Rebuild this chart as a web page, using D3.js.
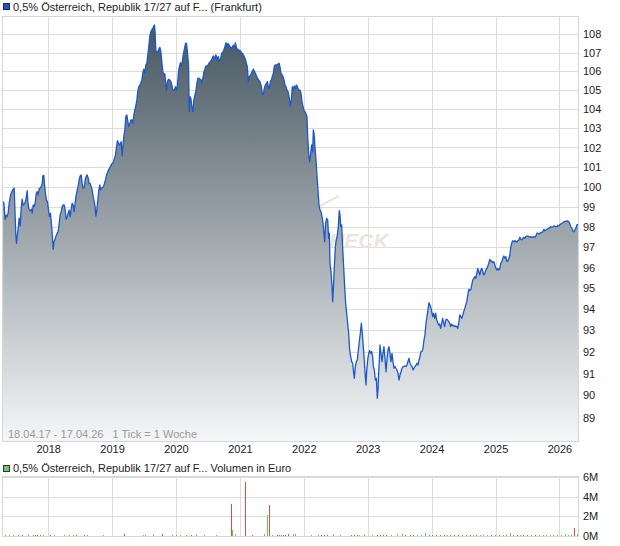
<!DOCTYPE html>
<html>
<head>
<meta charset="utf-8">
<script src="https://cdn.jsdelivr.net/npm/d3@7"></script>
<style>
  body { margin: 0; background: #fff; }
  svg { display: block; font-family: "Liberation Sans", Arial, sans-serif; }
</style>
</head>
<body>
<svg id="chart" width="620" height="546"></svg>
<script>
// Kurs (Frankfurt), Zeit in Dezimaljahren
const priceT = [
  2017.294,2017.306,2017.317,2017.327,2017.343,2017.359,2017.374,2017.390,2017.411,2017.432,
  2017.452,2017.468,2017.479,2017.494,2017.505,2017.515,2017.531,2017.546,2017.562,2017.578,
  2017.593,2017.609,2017.630,2017.651,2017.672,2017.682,2017.698,2017.719,2017.740,2017.750,
  2017.766,2017.781,2017.797,2017.813,2017.828,2017.844,2017.860,2017.875,2017.891,2017.907,
  2017.917,2017.933,2017.943,2017.959,2017.974,2017.990,2018.006,2018.021,2018.037,2018.047,
  2018.058,2018.068,2018.079,2018.089,2018.105,2018.120,2018.141,2018.157,2018.173,2018.188,
  2018.204,2018.220,2018.235,2018.251,2018.267,2018.282,2018.298,2018.314,2018.329,2018.345,
  2018.361,2018.376,2018.392,2018.407,2018.423,2018.439,2018.454,2018.470,2018.486,2018.501,
  2018.517,2018.533,2018.548,2018.564,2018.580,2018.595,2018.611,2018.627,2018.642,2018.658,
  2018.674,2018.689,2018.705,2018.721,2018.736,2018.747,2018.762,2018.778,2018.794,2018.809,
  2018.820,2018.836,2018.851,2018.867,2018.882,2018.898,2018.914,2018.929,2018.945,2018.961,
  2018.976,2018.992,2019.008,2019.023,2019.039,2019.055,2019.070,2019.086,2019.096,2019.112,
  2019.128,2019.143,2019.159,2019.169,2019.185,2019.201,2019.216,2019.232,2019.248,2019.263,
  2019.279,2019.295,2019.310,2019.326,2019.342,2019.357,2019.373,2019.389,2019.404,2019.420,
  2019.435,2019.451,2019.467,2019.482,2019.498,2019.514,2019.529,2019.545,2019.561,2019.576,
  2019.592,2019.608,2019.623,2019.639,2019.655,2019.665,2019.676,2019.686,2019.702,2019.717,
  2019.733,2019.749,2019.764,2019.780,2019.796,2019.811,2019.827,2019.843,2019.853,2019.869,
  2019.884,2019.900,2019.916,2019.931,2019.947,2019.963,2019.978,2019.994,2020.010,2020.025,
  2020.041,2020.057,2020.072,2020.088,2020.104,2020.119,2020.135,2020.151,2020.166,2020.182,
  2020.198,2020.208,2020.218,2020.234,2020.250,2020.265,2020.281,2020.297,2020.312,2020.328,
  2020.344,2020.359,2020.375,2020.391,2020.406,2020.422,2020.438,2020.453,2020.469,2020.485,
  2020.500,2020.516,
  2020.557,2020.583,2020.610,2020.625,2020.646,2020.662,2020.678,2020.699,2020.714,2020.740,
  2020.766,2020.782,2020.798,2020.813,2020.829,2020.845,2020.871,2020.897,2020.912,2020.928,
  2020.949,2020.975,2021.001,2021.027,2021.053,2021.079,2021.095,2021.116,2021.132,2021.147,
  2021.168,2021.189,2021.210,2021.231,2021.252,2021.273,2021.293,2021.314,2021.335,2021.351,
  2021.367,2021.382,2021.398,2021.414,2021.429,2021.445,2021.460,2021.476,2021.492,2021.507,
  2021.523,2021.539,2021.554,2021.575,2021.596,2021.612,2021.627,2021.643,2021.659,2021.674,
  2021.690,2021.706,2021.721,2021.737,2021.753,2021.774,2021.789,2021.805,2021.821,2021.836,
  2021.852,2021.867,2021.883,2021.899,2021.920,2021.941,2021.956,2021.972,2021.988,2022.003,
  2022.019,2022.035,2022.050,2022.061,2022.076,2022.092,2022.108,2022.123,2022.139,2022.149,
  2022.160,2022.175,2022.191,2022.207,2022.222,2022.238,2022.254,2022.269,2022.285,2022.301,
  2022.316,2022.327,2022.342,2022.358,2022.374,2022.389,
  2022.400,2022.410,2022.426,2022.442,2022.452,2022.462,2022.478,2022.494,2022.509,2022.525,
  2022.540,2022.556,2022.567,2022.577,2022.593,2022.608,2022.624,2022.640,2022.655,2022.671,
  2022.687,2022.702,2022.718,2022.734,2022.749,2022.765,2022.781,2022.791,2022.807,2022.822,
  2022.838,2022.854,2022.869,2022.885,2022.901,2022.916,2022.932,2022.948,2022.963,2022.974,
  2022.984,2023.000,2023.016,2023.031,2023.047,2023.062,2023.078,2023.089,2023.104,2023.120,
  2023.136,2023.151,2023.162,2023.172,2023.182,2023.193,2023.208,2023.224,2023.240,2023.255,
  2023.271,2023.287,2023.302,2023.318,2023.334,2023.349,2023.365,2023.381,2023.396,2023.412,
  2023.428,2023.443,2023.459,2023.475,2023.490,2023.506,2023.522,2023.537,2023.553,2023.569,
  2023.584,2023.600,2023.616,2023.631,2023.647,2023.663,2023.678,2023.694,2023.710,2023.725,
  2023.741,2023.757,2023.772,2023.788,2023.804,2023.819,2023.835,2023.850,2023.866,2023.882,
  2023.897,2023.913,2023.929,2023.944,2023.960,
  2023.986,2024.002,2024.018,2024.033,2024.049,2024.065,2024.080,2024.096,2024.112,2024.127,
  2024.143,2024.159,2024.174,2024.190,2024.205,2024.221,2024.237,2024.252,2024.268,2024.284,
  2024.299,2024.315,2024.331,2024.346,2024.362,2024.378,2024.393,2024.409,2024.425,2024.440,
  2024.456,2024.472,2024.487,2024.503,2024.519,2024.534,2024.550,2024.566,2024.581,2024.597,
  2024.613,2024.628,2024.644,2024.660,2024.675,2024.691,2024.707,2024.722,2024.738,2024.754,
  2024.769,2024.785,2024.801,2024.816,2024.832,2024.848,2024.863,2024.879,2024.894,2024.910,
  2024.926,2024.941,2024.957,2024.973,2024.988,2025.004,2025.020,2025.035,2025.051,2025.067,
  2025.082,2025.098,2025.114,2025.129,2025.145,2025.161,2025.176,2025.192,2025.208,2025.223,
  2025.239,2025.255,2025.270,2025.286,2025.302,2025.317,2025.333,2025.349,2025.364,2025.380,
  2025.396,2025.411,2025.427,2025.443,2025.458,2025.474,2025.490,2025.505,2025.521,2025.537,
  2025.552,2025.568,2025.584,2025.599,2025.615,2025.631,2025.646,2025.662,2025.678,2025.693,
  2025.709,2025.724,2025.740,2025.756,2025.771,2025.787,2025.803,2025.818,2025.834,2025.850,
  2025.865,2025.881,2025.897,2025.912,2025.928,2025.944,2025.959,2025.975,2025.991,2026.006,
  2026.022,2026.038,2026.053,2026.069,2026.085,2026.100,2026.116,2026.132,2026.147,2026.163,
  2026.179,2026.194,2026.210,2026.225,2026.241,2026.257,2026.272,2026.290
];
const priceV = [
  99.25,99.20,98.75,98.37,98.58,98.50,98.70,99.17,99.58,99.75,
  99.87,99.92,98.92,97.59,97.18,97.51,97.92,98.42,98.04,98.92,
  99.37,99.08,99.13,99.33,99.80,99.25,98.87,98.80,98.87,98.67,
  99.08,99.00,99.17,99.67,99.75,99.58,99.92,99.92,100.00,100.17,
  100.55,100.57,100.09,99.63,99.33,99.25,98.83,98.50,98.67,98.25,
  97.92,97.43,96.89,97.26,97.35,97.51,97.68,97.76,98.17,98.58,
  98.75,99.00,99.08,99.08,98.83,98.37,98.50,98.67,98.83,98.50,
  98.87,99.17,99.08,98.75,99.20,99.58,99.80,100.04,100.34,100.55,
  100.60,100.14,99.92,99.97,100.34,100.52,100.60,100.43,100.17,100.17,
  100.00,99.84,99.50,99.25,98.97,98.53,98.83,99.33,99.84,100.09,
  99.84,99.92,99.97,100.00,100.17,100.34,100.60,100.71,100.85,100.93,
  101.02,101.14,101.19,101.27,101.44,101.62,102.04,102.35,102.27,102.13,
  102.18,102.30,101.56,102.04,102.56,102.91,103.60,103.69,103.34,103.08,
  103.25,103.43,103.43,103.25,103.69,103.95,104.16,104.48,104.95,105.18,
  105.27,105.36,105.54,105.89,106.11,105.89,106.34,106.43,106.89,107.33,
  107.91,108.14,108.24,108.33,108.46,108.51,108.05,107.15,106.98,107.06,
  107.18,107.29,107.06,106.52,105.98,105.86,105.86,105.27,105.00,105.45,
  105.57,105.54,105.48,105.36,105.09,104.97,105.00,105.18,104.97,105.27,
  105.98,106.29,106.47,106.25,106.61,106.97,107.24,107.51,107.51,106.97,
  106.34,103.86,104.65,104.56,104.12,103.86,104.48,104.74,104.92,105.36,
  105.63,105.63,105.57,105.57,105.36,105.63,105.98,106.11,106.29,106.25,
  106.34,106.43,
  106.61,106.83,106.70,106.89,106.61,106.80,106.52,106.70,106.97,107.06,
  107.33,107.55,107.33,107.51,107.42,107.33,107.24,107.42,107.15,107.55,
  107.24,107.15,107.11,107.00,106.89,106.70,106.52,106.25,105.45,105.72,
  105.81,105.98,106.11,105.98,105.81,105.63,105.54,105.45,105.18,104.79,
  104.79,105.09,105.27,105.36,105.45,105.18,105.09,105.45,105.54,105.72,
  105.89,106.29,106.34,106.34,106.39,106.43,106.25,105.89,105.81,105.72,
  105.54,105.27,105.18,105.00,104.92,104.56,104.16,104.48,105.18,105.00,
  105.22,105.09,105.27,105.18,105.00,105.00,104.83,104.39,104.12,103.95,
  103.86,103.74,103.60,102.56,101.69,101.27,101.69,102.13,101.78,102.91,
  102.73,102.04,101.36,100.52,99.84,99.08,98.83,98.75,98.50,98.20,
  97.68,97.26,98.17,98.42,98.33,97.43,
  97.68,96.21,95.80,95.08,94.36,94.92,96.04,97.02,97.35,97.59,
  98.00,98.80,98.58,98.00,98.09,97.02,96.04,95.08,94.28,93.81,
  93.34,92.87,92.09,91.78,91.55,91.47,91.01,90.78,91.32,91.55,
  91.62,92.09,92.48,92.87,93.34,92.87,92.24,91.55,90.86,90.47,
  91.08,91.62,91.93,92.06,91.93,92.01,91.78,91.32,91.16,90.70,
  90.78,89.87,90.25,91.01,91.55,92.32,91.93,91.55,91.93,92.24,
  91.70,91.08,91.62,92.09,92.24,91.93,91.55,91.93,91.55,91.24,
  91.32,91.24,91.16,91.01,90.70,90.93,91.08,91.24,91.32,91.32,
  91.35,91.32,91.39,91.55,91.70,91.47,91.39,91.32,91.16,91.24,
  91.32,91.39,91.47,91.39,91.62,91.78,92.01,92.01,92.16,92.55,
  92.79,93.34,93.65,93.97,94.31,
  94.12,93.89,93.65,93.81,93.57,93.81,93.49,93.37,93.25,93.30,
  93.10,93.34,93.57,93.34,93.18,93.49,93.53,93.49,93.41,93.34,
  93.18,93.30,93.21,93.25,93.18,93.21,93.18,93.10,93.34,93.73,
  93.65,93.57,93.73,93.89,94.04,94.20,94.36,94.68,94.95,94.89,
  94.95,95.16,95.40,95.48,95.56,95.48,95.72,95.96,95.80,95.64,
  95.88,95.96,95.80,95.64,95.72,95.88,95.96,96.08,96.21,96.40,
  96.29,96.32,96.24,96.29,96.13,95.96,95.88,95.96,95.88,95.96,
  96.21,96.29,96.45,96.56,96.45,96.53,96.29,96.32,96.45,96.61,
  97.02,97.22,97.31,97.26,97.31,97.26,97.26,97.31,97.35,97.48,
  97.38,97.35,97.43,97.48,97.43,97.51,97.54,97.54,97.51,97.48,
  97.51,97.48,97.48,97.51,97.48,97.54,97.68,97.68,97.64,97.68,
  97.72,97.71,97.75,97.87,97.80,97.84,97.87,97.89,97.92,97.97,
  98.00,97.97,98.00,98.04,98.04,98.00,98.00,98.07,98.04,98.10,
  98.14,98.17,98.20,98.24,98.25,98.29,98.27,98.29,98.25,98.14,
  98.00,97.92,97.79,97.75,97.84,97.92,98.09,98.12
];

// Volumen in Mio. Euro, 1 = Kurs gestiegen (gruen), 0 = gefallen (rot)
const volT = [
  2017.322,2017.385,2017.447,2017.526,2017.588,2017.682,2017.760,2017.792,2017.823,2017.870,
  2017.917,2018.027,2018.089,2018.246,2018.324,2018.387,2018.434,2018.559,2018.606,2018.856,
  2019.185,2019.483,2019.514,2019.639,2019.780,2019.937,2019.999,2020.062,2020.156,2020.234,
  2020.312,2020.438,2020.626,2020.856,2020.871,2020.928,2021.084,2021.184,2021.382,2021.429,
  2021.460,2021.507,2021.581,2021.612,2021.643,2021.675,2021.706,2021.757,2021.826,2021.867,
  2022.113,2022.222,2022.269,2022.316,2022.363,2022.452,2022.567,2022.739,2022.786,2022.833,
  2022.857,2022.943,2023.068,2023.146,2023.193,2023.240,2023.287,2023.365,2023.459,2023.538,
  2023.584,2023.663,2023.710,2023.772,2023.835,2023.898,2023.960,2024.007,2024.070,2024.133,
  2024.195,2024.242,2024.289,2024.352,2024.414,2024.477,2024.540,2024.602,2024.649,2024.696,
  2024.759,2024.806,2024.868,2024.931,2024.993,2025.056,2025.119,2025.166,2025.221,2025.275,
  2025.338,2025.385,2025.432,2025.495,2025.557,2025.620,2025.682,2025.745,2025.792,2025.855,
  2025.902,2025.964,2026.027,2026.089,2026.137,2026.183,2026.230,2026.272
];
const volV = [
  0.05,0.04,0.05,0.04,0.05,0.06,0.05,0.08,0.06,0.07,
  0.05,0.05,0.06,0.10,0.08,0.15,0.05,0.05,0.05,0.05,
  0.18,0.12,0.06,0.05,0.20,0.06,0.08,0.05,0.05,0.05,
  0.04,0.05,0.05,3.30,0.62,0.25,5.45,0.03,0.25,2.15,
  3.20,0.08,0.08,0.06,0.08,0.07,0.10,0.20,0.25,0.25,
  0.04,0.05,0.08,0.07,0.06,0.10,0.05,0.08,0.08,0.08,
  0.15,0.05,0.15,0.08,0.08,0.08,0.08,0.12,0.18,0.20,
  0.08,0.06,0.05,0.07,0.06,0.30,0.08,0.06,0.08,0.07,
  0.08,0.06,0.12,0.06,0.08,0.08,0.06,0.08,0.10,0.08,
  0.06,0.10,0.15,0.08,0.06,0.08,0.10,0.08,0.30,0.08,
  0.10,0.06,0.15,0.06,0.08,0.06,0.05,0.10,0.12,0.15,
  0.10,0.12,0.10,0.18,0.15,0.10,0.86,0.20
];
const volUp = [
  1,1,1,1,0,0,0,0,0,0,
  1,0,1,1,1,1,0,0,1,1,
  0,1,1,0,0,1,1,1,1,0,
  0,1,1,0,1,1,0,0,1,1,
  0,1,0,0,0,0,0,0,1,1,
  1,1,0,0,0,0,1,0,0,0,
  1,0,1,0,0,0,0,1,1,1,
  0,0,0,1,1,1,0,0,0,0,
  0,1,1,0,0,0,1,0,1,0,
  1,1,1,0,1,0,1,0,1,0,
  0,1,0,0,1,0,1,1,1,1,
  1,1,1,1,1,0,0,1
];

const priceTicks = d3.range(89, 109);
const volTicks = [0, 2, 4, 6];
const yearTicks = d3.range(2018, 2027);
const legendPrice = "0,5% Österreich, Republik 17/27 auf F... (Frankfurt)";
const legendVol = "0,5% Österreich, Republik 17/27 auf F... Volumen in Euro";
const rangeNote = "18.04.17 - 17.04.26   1 Tick = 1 Woche";

// --- helpers ---
function yearToDate(t) {
  const y = Math.floor(t);
  const s = new Date(y, 0, 1), e = new Date(y + 1, 0, 1);
  return new Date(+s + (t - y) * (e - s));
}
const crisp = v => Math.round(v) + 0.5;

const price = priceT.map((t, i) => ({ date: yearToDate(t), v: priceV[i] }));
const volume = volT.map((t, i) => ({ date: yearToDate(t), v: volV[i], up: volUp[i] === 1 }));

// --- layout ---
const P = { left: 3, right: 578, top: 17, bottom: 441 };
const V = { top: 477, bottom: 536 };

const svg = d3.select("#chart");

const x = d3.scaleTime()
  .domain([new Date(2017, 3, 18), new Date(2026, 3, 17)])
  .range([P.left, P.right]);
const y = d3.scaleLog().domain([89, 108]).range([417.5, 34.3]);
const yv = d3.scaleLinear().domain([0, 6]).range([V.bottom, V.top]);
const yearDates = yearTicks.map(yr => new Date(yr, 0, 1));

const defs = svg.append("defs");
const grad = defs.append("linearGradient")
  .attr("id", "areaGrad")
  .attr("gradientUnits", "userSpaceOnUse")
  .attr("x1", 0).attr("x2", 0)
  .attr("y1", P.top).attr("y2", P.bottom);
grad.append("stop").attr("offset", "0%").attr("stop-color", "#43535e");
grad.append("stop").attr("offset", "100%").attr("stop-color", "#f5f6f7");

// ==== Legende oben ====
svg.append("rect")
  .attr("x", 3.5).attr("y", 3.5).attr("width", 6).attr("height", 6)
  .attr("fill", "#1f55c0").attr("stroke", "#1b2c5c");
svg.append("text")
  .attr("x", 13).attr("y", 11)
  .attr("font-size", 11).attr("fill", "#222")
  .text(legendPrice);

// ==== Hauptchart ====
const gMain = svg.append("g");

gMain.append("g").selectAll("line")
  .data(priceTicks).join("line")
  .attr("x1", P.left).attr("x2", P.right)
  .attr("y1", d => crisp(y(d))).attr("y2", d => crisp(y(d)))
  .attr("stroke", "#dcdcdc");

gMain.append("g").selectAll("line")
  .data(yearDates).join("line")
  .attr("x1", d => crisp(x(d))).attr("x2", d => crisp(x(d)))
  .attr("y1", P.top).attr("y2", P.bottom)
  .attr("stroke", "#dcdcdc");

// Wasserzeichen
gMain.append("line")
  .attr("x1", 318).attr("y1", 207).attr("x2", 339).attr("y2", 196)
  .attr("stroke", "#ebe5df").attr("stroke-width", 2);
gMain.append("text")
  .attr("x", 314).attr("y", 248)
  .attr("font-size", 21).attr("font-weight", "bold").attr("font-style", "italic")
  .attr("fill", "#ebe5df")
  .text("CHECK");

const area = d3.area()
  .x(d => x(d.date))
  .y0(P.bottom)
  .y1(d => y(d.v));
const line = d3.line()
  .x(d => x(d.date))
  .y(d => y(d.v));

gMain.append("path")
  .datum(price)
  .attr("d", area)
  .attr("fill", "url(#areaGrad)");

gMain.append("path")
  .datum(price)
  .attr("d", line)
  .attr("fill", "none")
  .attr("stroke", "#1b58cc")
  .attr("stroke-width", 1.3)
  .attr("stroke-linejoin", "round");

gMain.append("rect")
  .attr("x", P.left - 0.5).attr("y", P.top - 0.5)
  .attr("width", P.right - P.left + 1).attr("height", P.bottom - P.top + 1)
  .attr("fill", "none").attr("stroke", "#d6d6d6");

gMain.append("text")
  .attr("x", 8).attr("y", 438)
  .attr("font-size", 11).attr("fill", "#9a9a9a")
  .style("white-space", "pre")
  .text(rangeNote);

// Achsen
const yAxis = gMain.append("g")
  .attr("transform", `translate(${P.right},0)`)
  .call(d3.axisRight(y).tickValues(priceTicks).tickFormat(d3.format("d")).tickSize(0).tickPadding(5));
const xAxis = gMain.append("g")
  .attr("transform", `translate(0,${P.bottom})`)
  .call(d3.axisBottom(x).tickValues(yearDates).tickFormat(d3.timeFormat("%Y")).tickSize(0).tickPadding(4));

// ==== Volumen ====
svg.append("rect")
  .attr("x", 3.5).attr("y", 465.5).attr("width", 6).attr("height", 6)
  .attr("fill", "#66cc66").attr("stroke", "#333");
svg.append("text")
  .attr("x", 13).attr("y", 472)
  .attr("font-size", 11).attr("fill", "#222")
  .text(legendVol);

const gVol = svg.append("g");

gVol.append("g").selectAll("line")
  .data(volTicks).join("line")
  .attr("x1", P.left).attr("x2", P.right)
  .attr("y1", d => crisp(yv(d))).attr("y2", d => crisp(yv(d)))
  .attr("stroke", "#dcdcdc");

gVol.append("g").selectAll("line")
  .data(yearDates).join("line")
  .attr("x1", d => crisp(x(d))).attr("x2", d => crisp(x(d)))
  .attr("y1", V.top).attr("y2", V.bottom)
  .attr("stroke", "#dcdcdc");

gVol.append("rect")
  .attr("x", P.left - 0.5).attr("y", V.top - 0.5)
  .attr("width", P.right - P.left + 1).attr("height", V.bottom - V.top + 1)
  .attr("fill", "none").attr("stroke", "#d6d6d6");

gVol.append("g").selectAll("rect")
  .data(volume).join("rect")
  .attr("x", d => Math.round(x(d.date)))
  .attr("width", 1)
  .attr("y", d => Math.min(yv(d.v), V.bottom - 1))
  .attr("height", d => Math.max(1, V.bottom - yv(d.v)))
  .attr("fill", d => d.up ? "#4fd24f" : "#e64848")
  .attr("shape-rendering", "crispEdges");

const vAxis = gVol.append("g")
  .attr("transform", `translate(${P.right},0)`)
  .call(d3.axisRight(yv).tickValues(volTicks).tickFormat(d => d + "M").tickSize(0).tickPadding(5));

// Achsen-Styling
[yAxis, xAxis, vAxis].forEach(a => {
  a.select(".domain").remove();
  a.selectAll("text")
    .attr("fill", "#222")
    .style("font-size", "11px")
    .style("font-family", "\"Liberation Sans\", Arial, sans-serif");
});
</script>
</body>
</html>
